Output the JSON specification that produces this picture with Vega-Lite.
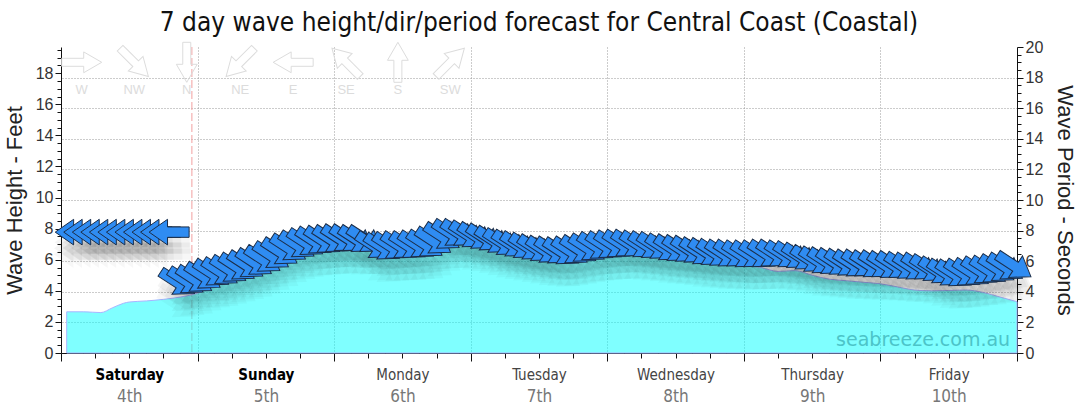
{
  "$schema": "https://vega.github.io/schema/vega-lite/v6.json",
  "width": 956,
  "height": 306,
  "autosize": {"type": "none"},
  "padding": {"left": 61, "top": 47, "right": 63, "bottom": 61},
  "background": "white",
  "title": {"text": "7 day wave height/dir/period forecast for Central Coast (Coastal)", "font": "DejaVu Sans Condensed", "fontSize": 26, "fontWeight": "normal", "color": "#111", "offset": 3, "anchor": "middle"},
  "config": {
    "view": {"stroke": null},
    "axis": {"labelFont": "Liberation Sans", "titleFont": "Liberation Sans", "titleFontWeight": "normal", "titleColor": "#222", "labelColor": "#333", "domainColor": "#111", "tickColor": "#111", "labelOverlap": false, "labelFlush": false, "labelBound": false}
  },
  "datasets": {
    "arrows": [
      {"t":2.5,"p":7.9,"dir":90},{"t":4,"p":7.9,"dir":90},{"t":5.5,"p":7.9,"dir":90},{"t":7,"p":7.9,"dir":90},{"t":8.5,"p":7.9,"dir":90},{"t":10,"p":7.9,"dir":90},{"t":11.5,"p":7.9,"dir":90},{"t":13,"p":7.9,"dir":90},{"t":14.5,"p":7.9,"dir":90},{"t":16,"p":7.9,"dir":90},{"t":17.5,"p":7.9,"dir":90},{"t":19,"p":7.9,"dir":90},
      {"t":20.5,"p":4.6,"dir":303},{"t":22,"p":4.7,"dir":303},{"t":23.5,"p":4.8,"dir":303},{"t":25,"p":5.0,"dir":303},{"t":26.5,"p":5.2,"dir":303},{"t":28,"p":5.3,"dir":303},{"t":29.5,"p":5.45,"dir":303},{"t":31,"p":5.6,"dir":303},{"t":32.5,"p":5.75,"dir":303},{"t":34,"p":5.9,"dir":303},
      {"t":35.5,"p":6.1,"dir":303},{"t":37,"p":6.35,"dir":303},{"t":38.5,"p":6.6,"dir":303},{"t":40,"p":6.85,"dir":303},{"t":41.5,"p":7.05,"dir":303},{"t":43,"p":7.2,"dir":303},{"t":44.5,"p":7.3,"dir":303},{"t":46,"p":7.35,"dir":303},{"t":47.5,"p":7.4,"dir":303},{"t":49,"p":7.45,"dir":303},
      {"t":50.5,"p":7.45,"dir":303},{"t":52,"p":7.4,"dir":303},{"t":53.5,"p":7.4,"dir":303},{"t":55,"p":7.0,"dir":303},{"t":56.5,"p":6.9,"dir":303},{"t":58,"p":6.95,"dir":303},{"t":59.5,"p":7.0,"dir":303},{"t":61,"p":7.0,"dir":303},{"t":62.5,"p":7.05,"dir":303},{"t":64,"p":7.1,"dir":303},
      {"t":65.5,"p":7.3,"dir":303},{"t":67,"p":7.6,"dir":303},{"t":68.5,"p":7.8,"dir":303},{"t":70,"p":7.8,"dir":303},{"t":71.5,"p":7.7,"dir":303},{"t":73,"p":7.6,"dir":303},{"t":74.5,"p":7.5,"dir":303},{"t":76,"p":7.35,"dir":303},{"t":77.5,"p":7.2,"dir":303},{"t":79,"p":7.1,"dir":303},
      {"t":80.5,"p":7.0,"dir":303},{"t":82,"p":6.9,"dir":303},{"t":83.5,"p":6.8,"dir":303},{"t":85,"p":6.7,"dir":303},{"t":86.5,"p":6.65,"dir":303},{"t":88,"p":6.6,"dir":303},{"t":89.5,"p":6.65,"dir":303},{"t":91,"p":6.75,"dir":303},{"t":92.5,"p":6.85,"dir":303},{"t":94,"p":6.95,"dir":303},
      {"t":95.5,"p":7.0,"dir":303},{"t":97,"p":7.05,"dir":303},{"t":98.5,"p":7.1,"dir":303},{"t":100,"p":7.1,"dir":303},{"t":101.5,"p":7.05,"dir":303},{"t":103,"p":7.0,"dir":303},{"t":104.5,"p":6.95,"dir":303},{"t":106,"p":6.85,"dir":303},{"t":107.5,"p":6.8,"dir":303},{"t":109,"p":6.75,"dir":303},
      {"t":110.5,"p":6.7,"dir":303},{"t":112,"p":6.6,"dir":303},{"t":113.5,"p":6.55,"dir":303},{"t":115,"p":6.5,"dir":303},{"t":116.5,"p":6.45,"dir":303},{"t":118,"p":6.45,"dir":303},{"t":119.5,"p":6.4,"dir":303},{"t":121,"p":6.4,"dir":303},{"t":122.5,"p":6.4,"dir":303},{"t":124,"p":6.45,"dir":303},
      {"t":125.5,"p":6.45,"dir":303},{"t":127,"p":6.4,"dir":303},{"t":128.5,"p":6.35,"dir":303},{"t":130,"p":6.25,"dir":303},{"t":131.5,"p":6.1,"dir":303},{"t":133,"p":6.0,"dir":303},{"t":134.5,"p":5.95,"dir":303},{"t":136,"p":5.9,"dir":303},{"t":137.5,"p":5.85,"dir":303},{"t":139,"p":5.8,"dir":303},
      {"t":140.5,"p":5.8,"dir":303},{"t":142,"p":5.75,"dir":303},{"t":143.5,"p":5.75,"dir":303},{"t":145,"p":5.7,"dir":303},{"t":146.5,"p":5.7,"dir":303},{"t":148,"p":5.65,"dir":303},{"t":149.5,"p":5.6,"dir":303},{"t":151,"p":5.6,"dir":303},{"t":152.5,"p":5.5,"dir":303},{"t":154,"p":5.35,"dir":303},
      {"t":155.5,"p":5.2,"dir":303},{"t":157,"p":5.15,"dir":303},{"t":158.5,"p":5.2,"dir":303},{"t":160,"p":5.25,"dir":303},{"t":161.5,"p":5.35,"dir":303},{"t":163,"p":5.4,"dir":303},{"t":164.5,"p":5.5,"dir":303},{"t":166,"p":5.6,"dir":303},{"t":167.5,"p":5.7,"dir":303}
    ],
    "height": [
      {"t":1,"h":2.65},{"t":4,"h":2.65},{"t":7,"h":2.6},{"t":9,"h":2.9},{"t":11,"h":3.2},{"t":12,"h":3.28},{"t":15,"h":3.35},{"t":18,"h":3.45},{"t":21,"h":3.6},{"t":23,"h":3.75},
      {"t":24,"h":3.85},{"t":27,"h":4.35},{"t":30,"h":4.9},{"t":33,"h":5.4},{"t":36,"h":5.8},{"t":39,"h":6.2},{"t":42,"h":6.5},{"t":45,"h":6.75},{"t":48,"h":6.9},
      {"t":51,"h":7.0},{"t":54,"h":6.95},{"t":57,"h":6.7},{"t":60,"h":6.7},{"t":63,"h":6.9},{"t":66,"h":7.6},{"t":68,"h":8.5},{"t":70,"h":8.3},{"t":72,"h":7.6},
      {"t":75,"h":7.2},{"t":78,"h":6.9},{"t":81,"h":6.7},{"t":84,"h":6.5},{"t":87,"h":6.35},{"t":90,"h":6.4},{"t":93,"h":6.55},{"t":96,"h":6.7},
      {"t":99,"h":6.7},{"t":102,"h":6.5},{"t":105,"h":6.3},{"t":108,"h":6.15},{"t":111,"h":6.0},{"t":114,"h":5.9},{"t":117,"h":5.8},{"t":120,"h":5.65},
      {"t":123,"h":5.5},{"t":126,"h":5.25},{"t":129,"h":5.3},{"t":132,"h":5.0},{"t":135,"h":4.75},{"t":138,"h":4.65},{"t":141,"h":4.55},{"t":144,"h":4.45},
      {"t":147,"h":4.25},{"t":150,"h":4.05},{"t":153,"h":4.0},{"t":156,"h":4.02},{"t":159,"h":4.05},{"t":162,"h":3.9},{"t":165,"h":3.6},{"t":168,"h":3.3}
    ],
    "compass": [
      {"t":3.64,"dir":270,"lab":"W"},{"t":12.87,"dir":315,"lab":"NW"},{"t":22.1,"dir":0,"lab":"N"},{"t":31.5,"dir":45,"lab":"NE"},
      {"t":40.8,"dir":90,"lab":"E"},{"t":50.1,"dir":135,"lab":"SE"},{"t":59.2,"dir":180,"lab":"S"},{"t":68.4,"dir":225,"lab":"SW"}
    ]
  },
  "resolve": {"scale": {"y": "independent"}, "axis": {"x": "independent"}},
  "layer": [
    {
      "data": {"values": [{"now": 23}]},
      "mark": {"type": "rule", "color": "#f2a0a0", "strokeDash": [8, 3], "strokeWidth": 1},
      "encoding": {
        "x": {"field": "now", "type": "quantitative", "scale": {"domain": [0, 168], "nice": false, "zero": false}, "axis": null}
      }
    },
    {
      "data": {"name": "height"},
      "mark": {"type": "area", "interpolate": "monotone", "fill": "#00ffff", "fillOpacity": 0.5, "stroke": "#a8b4ff", "strokeWidth": 1},
      "encoding": {
        "x": {"field": "t", "type": "quantitative", "scale": {"domain": [0, 168], "nice": false, "zero": false},
          "axis": {"orient": "bottom", "values": [0,6,12,18,24,30,36,42,48,54,60,66,72,78,84,90,96,102,108,114,120,126,132,138,144,150,156,162,168], "labels": false, "title": null, "grid": true, "gridDash": [1, 2], "gridColor": "#999",
            "gridOpacity": {"condition": {"test": "datum.value % 24 === 0 && datum.value > 0 && datum.value < 168", "value": 1}, "value": 0},
            "tickSize": {"condition": {"test": "datum.value % 24 === 0", "value": 8}, "value": 5}}},
        "y": {"field": "h", "type": "quantitative", "scale": {"domain": [0, 19.685], "nice": false, "zero": true},
          "axis": {"orient": "left", "values": [0,0.5,1,1.5,2,2.5,3,3.5,4,4.5,5,5.5,6,6.5,7,7.5,8,8.5,9,9.5,10,10.5,11,11.5,12,12.5,13,13.5,14,14.5,15,15.5,16,16.5,17,17.5,18,18.5,19,19.5],
            "labelExpr": "datum.value % 2 === 0 ? format(datum.value, 'd') : ''", "grid": false, "title": "Wave Height - Feet", "titleFontSize": 22, "titlePadding": 9, "labelFontSize": 16, "labelPadding": 2,
            "tickSize": {"condition": {"test": "datum.value % 2 === 0", "value": 6}, "value": 4}}}
      }
    },
    {
      "data": {"name": "arrows"},
      "mark": {"type": "point", "shape": "M -1 -0.26 L 0.08 -0.26 L 0.08 -0.64 L 1 0 L 0.08 0.64 L 0.08 0.26 L -1 0.26 Z", "filled": true, "fill": "#000", "fillOpacity": 0.04, "strokeWidth": 0, "size": 1700, "yOffset": 10},
      "encoding": {
        "x": {"field": "t", "type": "quantitative", "scale": {"domain": [0, 168], "nice": false, "zero": false}, "axis": null},
        "y": {"field": "p", "type": "quantitative", "scale": {"domain": [0, 20], "nice": false}, "axis": null},
        "angle": {"field": "dir", "type": "quantitative", "scale": {"domain": [0, 360], "range": [90, 450]}, "legend": null}
      }
    },
    {
      "data": {"name": "arrows"},
      "mark": {"type": "point", "shape": "M -1 -0.26 L 0.08 -0.26 L 0.08 -0.64 L 1 0 L 0.08 0.64 L 0.08 0.26 L -1 0.26 Z", "filled": true, "fill": "#000", "fillOpacity": 0.04, "strokeWidth": 0, "size": 1800, "yOffset": 16},
      "encoding": {
        "x": {"field": "t", "type": "quantitative", "scale": {"domain": [0, 168], "nice": false, "zero": false}, "axis": null},
        "y": {"field": "p", "type": "quantitative", "scale": {"domain": [0, 20], "nice": false}, "axis": null},
        "angle": {"field": "dir", "type": "quantitative", "scale": {"domain": [0, 360], "range": [90, 450]}, "legend": null}
      }
    },
    {
      "data": {"name": "arrows"},
      "mark": {"type": "point", "shape": "M -1 -0.26 L 0.08 -0.26 L 0.08 -0.64 L 1 0 L 0.08 0.64 L 0.08 0.26 L -1 0.26 Z", "filled": true, "fill": "#000", "fillOpacity": 0.03, "strokeWidth": 0, "size": 1900, "yOffset": 22},
      "encoding": {
        "x": {"field": "t", "type": "quantitative", "scale": {"domain": [0, 168], "nice": false, "zero": false}, "axis": null},
        "y": {"field": "p", "type": "quantitative", "scale": {"domain": [0, 20], "nice": false}, "axis": null},
        "angle": {"field": "dir", "type": "quantitative", "scale": {"domain": [0, 360], "range": [90, 450]}, "legend": null}
      }
    },
    {
      "data": {"name": "arrows"},
      "mark": {"type": "point", "shape": "M -1 -0.26 L 0.08 -0.26 L 0.08 -0.64 L 1 0 L 0.08 0.64 L 0.08 0.26 L -1 0.26 Z", "filled": true, "fill": "#2f8cf2", "fillOpacity": 1, "opacity": 1, "stroke": "#1b2d48", "strokeWidth": 1, "size": 1600},
      "encoding": {
        "x": {"field": "t", "type": "quantitative", "scale": {"domain": [0, 168], "nice": false, "zero": false}, "axis": null},
        "y": {"field": "p", "type": "quantitative", "scale": {"domain": [0, 20], "nice": false},
          "axis": {"orient": "right", "values": [0,0.5,1,1.5,2,2.5,3,3.5,4,4.5,5,5.5,6,6.5,7,7.5,8,8.5,9,9.5,10,10.5,11,11.5,12,12.5,13,13.5,14,14.5,15,15.5,16,16.5,17,17.5,18,18.5,19,19.5,20],
            "labelExpr": "datum.value % 2 === 0 ? format(datum.value, 'd') : ''", "title": "Wave Period - Seconds", "titleFontSize": 22, "titlePadding": 10, "labelFontSize": 16, "labelPadding": 2,
            "grid": true, "gridDash": [1, 2], "gridColor": "#999",
            "gridOpacity": {"condition": {"test": "datum.value % 2 === 0 && datum.value > 0 && datum.value < 20", "value": 1}, "value": 0},
            "tickSize": {"condition": {"test": "datum.value % 2 === 0", "value": 6}, "value": 4}}},
        "angle": {"field": "dir", "type": "quantitative", "scale": {"domain": [0, 360], "range": [90, 450]}, "legend": null}
      }
    },
    {
      "data": {"name": "compass"},
      "mark": {"type": "point", "shape": "M -1 -0.2 L 0.1 -0.2 L 0.1 -0.52 L 1 0 L 0.1 0.52 L 0.1 0.2 L -1 0.2 Z", "filled": false, "stroke": "#dcdcdc", "strokeWidth": 1, "opacity": 1, "size": 1600},
      "encoding": {
        "x": {"field": "t", "type": "quantitative", "scale": {"domain": [0, 168], "nice": false, "zero": false},
          "axis": {"orient": "bottom", "values": [12,36,60,84,108,132,156], "labelExpr": "['Saturday','Sunday','Monday','Tuesday','Wednesday','Thursday','Friday'][floor(datum.value/24)]",
            "ticks": false, "tickSize": 0, "domain": false, "grid": false, "title": null, "labelPadding": 14, "labelFont": "DejaVu Sans Condensed", "labelFontSize": 15,
            "labelFontWeight": {"condition": {"test": "datum.value < 48", "value": "bold"}, "value": "normal"},
            "labelColor": {"condition": {"test": "datum.value < 48", "value": "#000"}, "value": "#444"}}},
        "y": {"datum": 18.7, "type": "quantitative", "scale": {"domain": [0, 19.685], "nice": false}, "axis": null},
        "angle": {"field": "dir", "type": "quantitative", "scale": {"domain": [0, 360], "range": [90, 450]}, "legend": null}
      }
    },
    {
      "data": {"name": "compass"},
      "mark": {"type": "text", "font": "Liberation Sans", "fontSize": 13, "color": "#dcdcdc", "baseline": "middle", "align": "center"},
      "encoding": {
        "x": {"field": "t", "type": "quantitative", "scale": {"domain": [0, 168], "nice": false, "zero": false},
          "axis": {"orient": "bottom", "values": [12,36,60,84,108,132,156], "labelExpr": "['4th','5th','6th','7th','8th','9th','10th'][floor(datum.value/24)]",
            "ticks": false, "tickSize": 0, "domain": false, "grid": false, "title": null, "labelPadding": 35, "labelFont": "DejaVu Sans Condensed", "labelFontSize": 17, "labelColor": "#777"}},
        "y": {"datum": 16.9, "type": "quantitative", "scale": {"domain": [0, 19.685], "nice": false}, "axis": null},
        "text": {"field": "lab", "type": "nominal"}
      }
    },
    {
      "data": {"values": [{"label": "seabreeze.com.au"}]},
      "mark": {"type": "text", "font": "DejaVu Sans", "fontSize": 19, "color": "#4cc4c8", "align": "right", "baseline": "alphabetic"},
      "encoding": {
        "x": {"datum": 166.8, "type": "quantitative", "scale": {"domain": [0, 168], "nice": false, "zero": false}, "axis": null},
        "y": {"datum": 0.45, "type": "quantitative", "scale": {"domain": [0, 19.685], "nice": false}, "axis": null},
        "text": {"field": "label", "type": "nominal"}
      }
    }
  ]
}
